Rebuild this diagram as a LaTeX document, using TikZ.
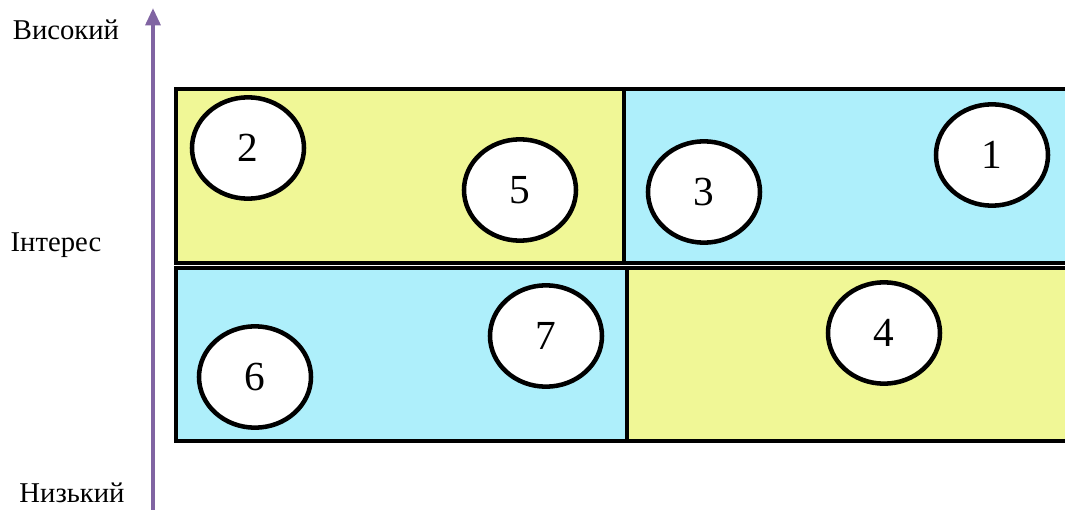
\documentclass[tikz,border=0pt]{standalone}
\usepackage{fontspec}
\setmainfont{Liberation Serif}
\usetikzlibrary{arrows.meta,shapes.geometric}
\definecolor{boxyellow}{HTML}{F0F796}
\definecolor{boxcyan}{HTML}{AEEFFB}
\definecolor{axispurple}{HTML}{8064A2}
\tikzset{
  quad/.style={line width=3.6pt, draw=black},
  bubble/.style={ellipse, draw=black, line width=3.4pt, fill=white, minimum width=84pt, minimum height=76pt, inner sep=0pt, font=\fontsize{31}{31}\selectfont},
  axislabel/.style={font=\fontsize{21.5}{22}\selectfont, inner sep=0pt},
}
\begin{document}
\begin{tikzpicture}[x=0.75pt,y=-0.75pt]
\useasboundingbox (0,0) rectangle (1065,510);
\begin{scope}
\clip (0,0) rectangle (1065,510);
% quadrants
\draw[quad, fill=boxyellow] (176,89) rectangle (624,263);
\draw[quad, fill=boxcyan] (624,89) rectangle (1075,263);
\draw[quad, fill=boxcyan] (176,268) rectangle (627,441);
\draw[quad, fill=boxyellow] (627,268) rectangle (1075,441);
\end{scope}
% axis
\coordinate (axbot) at (153,512);
\coordinate (axtop) at (153,8);
\draw[draw=axispurple, line width=3pt, -{Triangle[width=11pt,length=13pt]}] (axbot) -- (axtop);
% axis labels
\node[axislabel] (high) at (66,30) {Високий};
\node[axislabel] (mid) at (56,245) {Інтерес};
\node[axislabel] (low) at (72,493) {Низький};
% bubbles
\node[bubble] (n2) at (248,148) {2};
\node[bubble] (n5) at (520,190) {5};
\node[bubble] (n3) at (704,192) {3};
\node[bubble] (n1) at (992,155) {1};
\node[bubble] (n7) at (546,336) {7};
\node[bubble] (n6) at (255,377) {6};
\node[bubble] (n4) at (884,333) {4};
\end{tikzpicture}
\end{document}
